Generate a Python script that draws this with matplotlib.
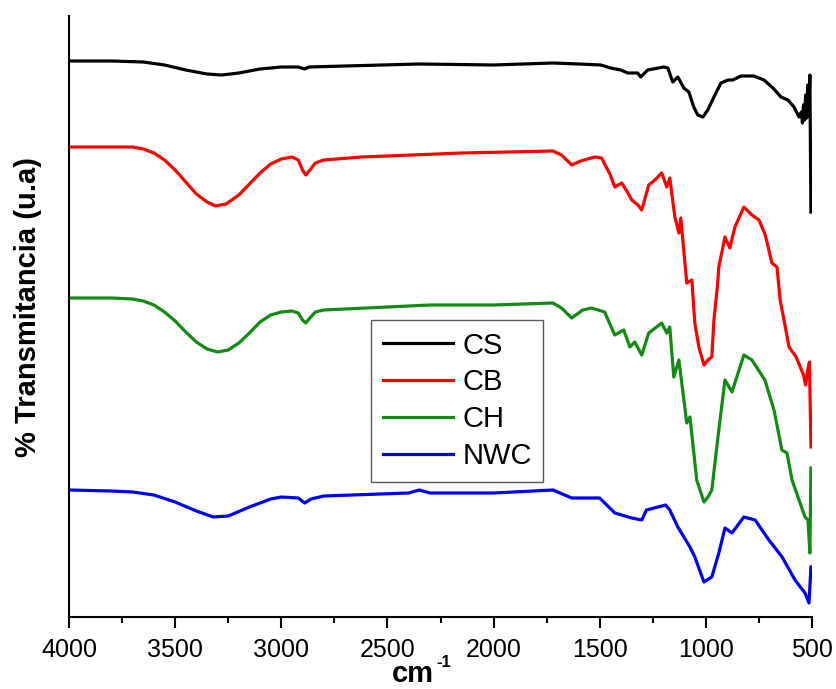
import matplotlib
matplotlib.use("Agg")
import matplotlib.pyplot as plt
from matplotlib.ticker import MultipleLocator

plt.rcParams["font.family"] = ["Liberation Sans", "DejaVu Sans"]

# FTIR spectra, wavenumber (cm-1) vs transmittance (arbitrary units, stacked)
cs_wn = [4000, 3800, 3650, 3550, 3450, 3350, 3280, 3200, 3100, 3000, 2920, 2890, 2870,
         2700, 2350, 2000, 1720, 1600, 1495, 1448, 1401, 1368, 1321, 1307, 1274, 1198,
         1179, 1156, 1132, 1104, 1080, 1057, 1038, 1014, 991, 962, 929, 896, 873, 835,
         774, 726, 684, 646, 613, 585, 561, 550, 545, 540, 535, 530, 525, 520, 515, 510, 505]
cs_t = [556, 556, 555, 552, 547, 543, 542, 544, 548, 550, 550, 548, 550,
        551, 553, 552, 554, 553, 552, 549, 547, 544, 544, 540, 547, 550,
        549, 535, 540, 529, 525, 510, 502, 500, 507, 520, 534, 537, 537, 541,
        541, 537, 529, 520, 517, 510, 500, 505, 494, 512, 497, 522, 499, 532, 507, 542, 405]

cb_wn = [4000, 3800, 3700, 3650, 3600, 3550, 3500, 3450, 3400, 3350, 3310, 3260, 3200,
         3150, 3100, 3050, 3000, 2950, 2920, 2900, 2885, 2865, 2840, 2800, 2620, 2150,
         1720, 1680, 1632, 1590, 1524, 1491, 1450, 1429, 1396, 1370, 1349, 1320, 1302,
         1269, 1240, 1208, 1184, 1170, 1146, 1127, 1118, 1090, 1066, 1052, 1033, 1009,
         990, 972, 962, 945, 939, 910, 887, 863, 821, 783, 750, 720, 689, 665, 650, 641,
         608, 575, 540, 530, 520, 512, 505]
cb_t = [470, 470, 470, 468, 464, 457, 447, 435, 423, 415, 411, 413, 422,
        433, 444, 453, 458, 460, 457, 447, 442, 447, 454, 457, 460, 464,
        466, 462, 452, 456, 460, 459, 442, 430, 434, 425, 417, 412, 407,
        432, 437, 444, 430, 439, 400, 384, 399, 334, 337, 294, 270, 252,
        257, 260, 297, 332, 350, 380, 369, 390, 410, 402, 397, 382, 354, 350, 317, 307,
        270, 260, 242, 232, 247, 255, 170]

ch_wn = [4000, 3800, 3700, 3650, 3600, 3550, 3500, 3450, 3400, 3350, 3300, 3250, 3200,
         3150, 3100, 3050, 3000, 2950, 2920, 2900, 2885, 2865, 2840, 2800, 2600, 2300,
         2000, 1720, 1680, 1632, 1580, 1538, 1477, 1450, 1429, 1387, 1358, 1335, 1302,
         1269, 1208, 1184, 1170, 1151, 1127, 1090, 1075, 1043, 1009, 990, 972, 939, 910,
         877, 821, 783, 722, 679, 642, 618, 594, 533, 519, 510, 505]
ch_t = [319, 319, 318, 316, 312, 305, 296, 285, 275, 268, 265, 267, 274,
        284, 295, 302, 305, 306, 304, 297, 294, 299, 305, 307, 309, 312,
        312, 314, 309, 299, 307, 309, 305, 292, 282, 287, 270, 275, 262,
        284, 294, 284, 290, 240, 257, 194, 200, 137, 115, 120, 127, 187, 237,
        225, 262, 257, 237, 207, 167, 164, 137, 100, 97, 64, 149]

nwc_wn = [4000, 3800, 3700, 3600, 3500, 3400, 3320, 3250, 3150, 3050, 3000, 2920, 2890,
          2860, 2800, 2400, 2350, 2300, 2000, 1720, 1632, 1500, 1429, 1349, 1302, 1280,
          1189, 1170, 1132, 1075, 1052, 1009, 972, 939, 910, 877, 821, 768, 703, 641,
          580, 533, 514, 505]
nwc_t = [127, 126, 125, 122, 115, 106, 100, 101, 110, 118, 120, 119, 114,
         118, 121, 124, 127, 124, 124, 127, 119, 119, 104, 99, 97, 107,
         112, 107, 90, 70, 60, 35, 40, 64, 89, 84, 100, 97, 77, 60,
         37, 24, 14, 50]

fig = plt.figure(figsize=(8.37, 6.89), dpi=100)
ax = fig.add_axes([69 / 837, 72 / 689, 743 / 837, 601 / 689])

lw = 2.3
ax.plot(cs_wn, cs_t, color="black", lw=lw, label="CS")
ax.plot(cb_wn, cb_t, color="#ff0000", lw=lw, label="CB")
ax.plot(ch_wn, ch_t, color="#138a13", lw=lw, label="CH")
ax.plot(nwc_wn, nwc_t, color="#0000ff", lw=lw, label="NWC")

ax.set_xlim(4000, 500)
ax.set_ylim(0, 601)

ax.spines["top"].set_visible(False)
ax.spines["right"].set_visible(False)
ax.spines["left"].set_linewidth(1.5)
ax.spines["bottom"].set_linewidth(1.5)

ax.set_yticks([])
ax.xaxis.set_major_locator(MultipleLocator(500))
ax.xaxis.set_minor_locator(MultipleLocator(250))
ax.tick_params(axis="x", which="major", direction="out", length=8, width=1.5,
               labelsize=18, pad=7)
ax.tick_params(axis="x", which="minor", direction="out", length=4.5, width=1.5)

# axis titles placed by hand to sit like the original
fig.text(392 / 837, 1 / 689, "cm", fontsize=21, fontweight="bold",
         ha="left", va="bottom")
fig.text(436 / 837, 22 / 689, "-1", fontsize=12, fontweight="bold",
         ha="left", va="baseline")
fig.text(28 / 837, 1 - 307 / 689, "% Transmitancia (u.a)", fontsize=21,
         fontweight="bold", rotation=90, ha="center", va="center")

leg = ax.legend(loc="upper left", bbox_to_anchor=(371 / 837, 1 - 320 / 689),
                bbox_transform=fig.transFigure, borderaxespad=0, fontsize=21,
                frameon=True, fancybox=False, edgecolor="0.35", framealpha=1,
                handlelength=2.4, handletextpad=0.33, labelspacing=0.3,
                borderpad=0.4)
leg.get_frame().set_linewidth(1.0)

fig.savefig("out.png", dpi=100)
